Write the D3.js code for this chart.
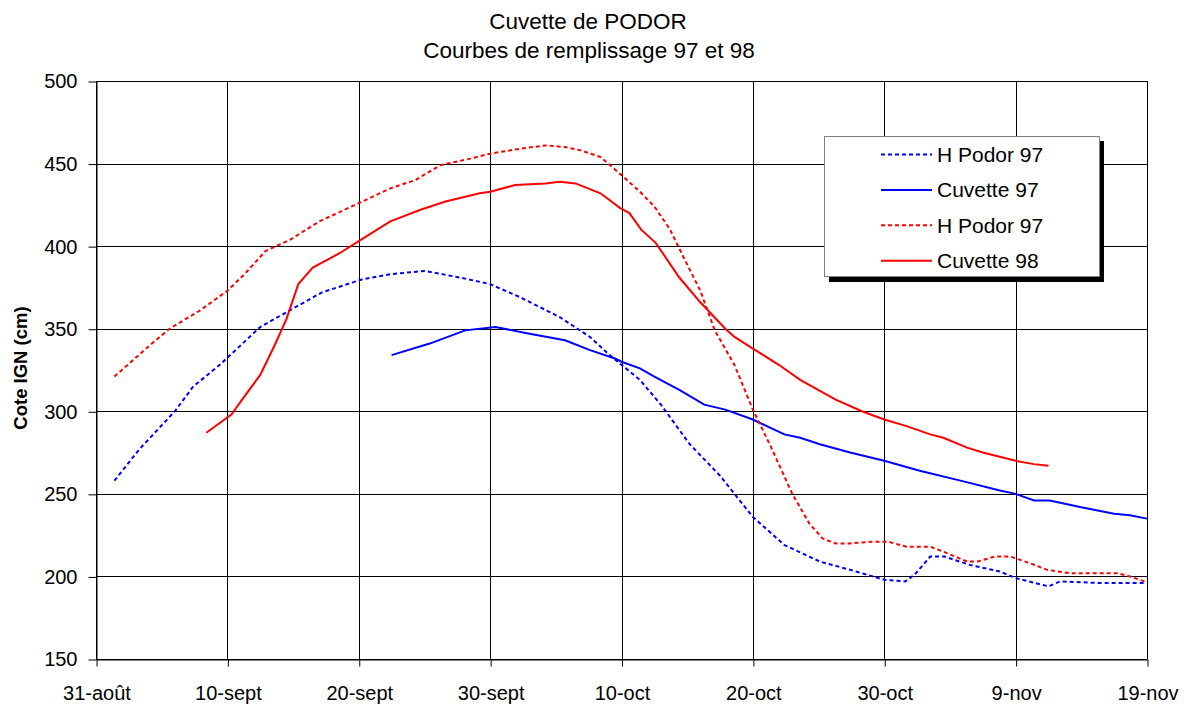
<!DOCTYPE html>
<html><head><meta charset="utf-8">
<script src="https://cdn.jsdelivr.net/npm/d3@7"></script>
<style>
body{margin:0;background:#fff;}
text{font-family:"Liberation Sans",Arial,sans-serif;}
</style></head>
<body><svg id="c" width="1192" height="707"></svg>
<script>
// Days counted from 31 August
const tickDays = [0,10,20,30,40,50,60,70,80];
const tickLabels = ["31-août","10-sept","20-sept","30-sept","10-oct","20-oct","30-oct","9-nov","19-nov"];
const yTicks = [150,200,250,300,350,400,450,500];

const hPodor97Days = [1.4,3.3,6,7.4,9.4,12.5,14.5,17.2,20.3,22.4,25,27.7,30,32.3,35.3,37.6,39.1,41.4,43,45.2,47.5,50,52.4,55.1,57.4,60,61.6,62.3,63.5,64.6,66.5,68.8,70,72.5,73.4,76.4,79.8];
const hPodor97Vals = [258,277,300,315,328,351,360,372,380,383,385,381,377,369,357,345,334,319,304,280,261,236,219,209,204,198,197,201,212,212,207,203,199,194,197,196,196];

const cuvette97Days = [22.5,25.4,28.1,30.4,33,35.7,37.6,39.5,40,41.4,42.5,44.4,46.3,47.9,50,52.4,53.6,55.1,57.4,60,62.7,65.8,68.8,70,71.4,72.6,74.9,77.5,78.7,80];
const cuvette97Vals = [334,341,349,351,347,343,337,332,330,326,321,313,304,301,295,286,284,280,275,270,264,258,252,250,246,246,242,238,237,235];

const hPodor98Days = [1.4,4.1,5.6,7.9,10,11.3,12.9,14.8,17,20,22.4,24.3,26.2,28.5,30,32.3,34.2,35.7,36.9,38.4,40,41.4,42.5,43.7,44.8,46,47.1,48.6,50,51.4,53,54.3,55.3,56.3,57.4,59.2,60.3,61.7,63.5,64.5,66.3,67.1,68.4,69.6,71.1,72.4,74.1,77.7,78.7,79.8];
const hPodor98Vals = [321,340,350,361,373,383,397,404,415,426,435,440,449,453,456,459,461,460,458,454,443,433,424,410,392,373,349,328,301,278,250,232,223,220,220,221,221,218,218,215,209,209,212,212,208,204,202,202,200,197];

const cuvette98Days = [8.4,10.3,11.3,12.5,13.6,14.5,15.4,16.5,18.6,20,22.4,24.7,26.6,29.2,30,31.9,34.2,35.3,36.5,38.4,39.9,40.6,41.5,42.6,44.4,46,47.9,48.6,50,52,53.6,56.3,58.3,60,61.7,63.5,64.5,66.3,67.5,70,71.4,72.5];
const cuvette98Vals = [287,298,309,322,340,356,377,387,396,403,415,422,427,432,433,437,438,439,438,432,423,420,410,402,381,366,350,345,338,328,319,307,300,295,291,286,284,278,275,270,268,267];

const seriesNames = ["H Podor 97","Cuvette 97","H Podor 97","Cuvette 98"];
const seriesColors = ["#0000ff","#0000ff","#ff0000","#ff0000"];
const seriesDashed = [true,false,true,false];
const seriesDays = [hPodor97Days,cuvette97Days,hPodor98Days,cuvette98Days];
const seriesVals = [hPodor97Vals,cuvette97Vals,hPodor98Vals,cuvette98Vals];

const svg = d3.select("#c");
const L=96,R=1147,T=81,B=659;
const x = d3.scaleLinear().domain([0,80]).range([L,R]);
const y = d3.scaleLinear().domain([150,500]).range([B,T]);

// gridlines
const g = svg.append("g");
g.selectAll("line.h").data(yTicks).join("line")
 .attr("x1",L).attr("x2",R).attr("y1",d=>Math.round(y(d))+0.5).attr("y2",d=>Math.round(y(d))+0.5)
 .attr("stroke","#000").attr("stroke-width",1);
g.selectAll("line.v").data(tickDays).join("line")
 .attr("y1",T).attr("y2",B).attr("x1",d=>Math.round(x(d))+0.5).attr("x2",d=>Math.round(x(d))+0.5)
 .attr("stroke","#000").attr("stroke-width",1);

// axes
const xAxis = d3.axisBottom(x).tickValues(tickDays).tickFormat((d,i)=>tickLabels[i]).tickSize(7).tickSizeOuter(0);
const ax = svg.append("g").attr("transform",`translate(0.5,${Math.round(B)+0.5})`).call(xAxis);
ax.select(".domain").attr("stroke","#000");
ax.selectAll(".tick line").attr("stroke","#000");
ax.selectAll("text").attr("font-size",20).attr("fill","#000").attr("y",40).attr("dy",0).attr("font-family","Liberation Sans, Arial, sans-serif");

const yAxis = d3.axisLeft(y).tickValues(yTicks).tickSize(8).tickSizeOuter(0);
const ay = svg.append("g").attr("transform",`translate(${L+0.5},0.5)`).call(yAxis);
ay.select(".domain").attr("stroke","#000");
ay.selectAll(".tick line").attr("stroke","#000");
ay.selectAll("text").attr("font-size",20).attr("fill","#000").attr("x",-19).attr("font-family","Liberation Sans, Arial, sans-serif");

// lines
const line = d3.line().x(d=>x(d[0])).y(d=>y(d[1]));
seriesDays.forEach((days,i)=>{
  const pts = days.map((d,j)=>[d,seriesVals[i][j]]);
  svg.append("path").datum(pts).attr("d",line).attr("fill","none")
    .attr("stroke",seriesColors[i]).attr("stroke-width",2)
    .attr("stroke-dasharray",seriesDashed[i]?"4,3":null);
});

// titles
svg.append("text").attr("x",588).attr("y",29).attr("text-anchor","middle").attr("font-size",22.5).text("Cuvette de PODOR");
svg.append("text").attr("x",589).attr("y",58).attr("text-anchor","middle").attr("font-size",22.5).text("Courbes de remplissage 97 et 98");
svg.append("text").attr("transform","translate(27,368) rotate(-90)").attr("text-anchor","middle")
  .attr("font-size",18.5).attr("font-weight","bold").text("Cote IGN (cm)");

// legend
const lg = svg.append("g");
lg.append("rect").attr("x",829).attr("y",141).attr("width",275).attr("height",141).attr("fill","#000");
lg.append("rect").attr("x",824.5).attr("y",136.5).attr("width",275).attr("height",140).attr("fill","#fff").attr("stroke","#808080").attr("stroke-width",1);
seriesNames.forEach((n,i)=>{
  const yy = 154.5 + i*35.4;
  lg.append("line").attr("x1",881).attr("x2",932).attr("y1",yy).attr("y2",yy)
    .attr("stroke",seriesColors[i]).attr("stroke-width",2).attr("stroke-dasharray",seriesDashed[i]?"4,3":null);
  lg.append("text").attr("x",937).attr("y",yy+7.5).attr("font-size",21).text(n);
});
</script></body></html>
